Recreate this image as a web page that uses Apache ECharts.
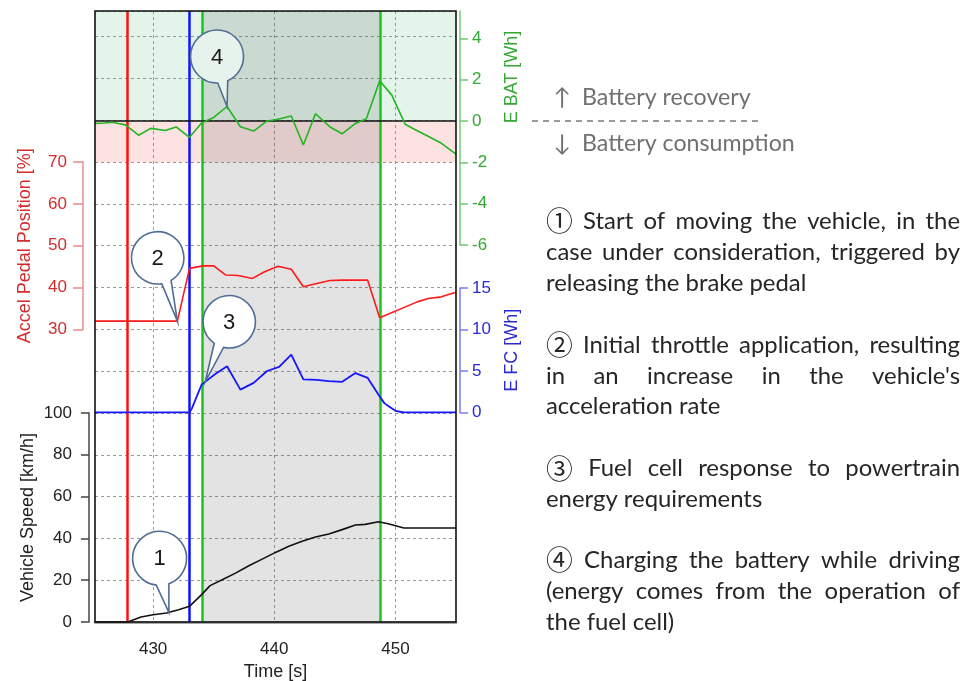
<!DOCTYPE html>
<html>
<head>
<meta charset="utf-8">
<title>Vehicle start-up: speed, pedal and energy flows</title>
<script src="https://cdn.jsdelivr.net/npm/echarts@6/dist/echarts.min.js"></script>
<style>
  html, body { margin: 0; padding: 0; background: #ffffff; }
  #chart { width: 971px; height: 681px; }
</style>
</head>
<body>
<div id="chart"></div>
<script>
// ---- Measured signals (time in s) ----
const timeTicks = [430, 440, 450];

const speedTime = [425.2, 427.9, 429.0, 430.0, 431.1, 432.1, 433.0, 434.0, 434.7, 435.7, 436.8, 437.9,
                   439.0, 440.1, 441.2, 442.3, 443.4, 444.5, 445.6, 446.7, 447.5, 448.6, 449.4, 450.7, 455.0];
const speedKmh  = [0, 0, 2.4, 3.5, 4.3, 5.9, 7.5, 13.1, 17.4, 20.2, 23.4, 26.9,
                   30.1, 33.3, 36.2, 38.6, 40.7, 42.1, 44.2, 46.4, 46.7, 48.0, 47.0, 45.0, 45.0];

const pedalTime = [425.2, 432.0, 433.0, 434.1, 435.0, 436.0, 437.0, 438.2, 439.2, 440.3, 441.4,
                   442.4, 443.5, 444.6, 445.6, 447.7, 448.7, 451.8, 452.7, 453.8, 455.0];
const pedalPct  = [32.0, 32.0, 44.6, 45.2, 45.2, 43.0, 42.9, 42.2, 43.8, 45.1, 44.4,
                   40.2, 41.0, 41.7, 41.8, 41.8, 32.8, 36.6, 37.4, 37.8, 38.9];

const fcTime = [425.2, 433.0, 433.2, 434.0, 435.1, 436.1, 437.2, 438.3, 439.4, 440.4, 441.4, 442.4,
                443.5, 444.5, 445.6, 446.7, 447.7, 448.7, 449.1, 449.5, 450.0, 450.7, 455.0];
const fcWh   = [0, 0, 0.5, 3.36, 4.6, 5.58, 2.75, 3.57, 5.0, 5.5, 6.97, 3.98,
                3.94, 3.77, 3.7, 4.75, 4.18, 1.93, 1.1, 0.7, 0.2, 0, 0];

const batTime = [425.2, 426.0, 426.6, 427.7, 428.8, 429.8, 431.0, 431.9, 433.0, 434.0, 435.0, 436.1,
                 437.2, 438.3, 439.4, 440.2, 441.4, 442.4, 443.4, 444.6, 445.6, 446.7, 447.6, 448.7,
                 449.7, 450.8, 451.6, 452.7, 453.8, 455.0];
const batWh   = [-0.12, -0.10, -0.06, -0.19, -0.69, -0.36, -0.46, -0.29, -0.79, -0.10, 0.17, 0.70,
                 -0.28, -0.49, 0.0, 0.07, 0.24, -1.16, 0.35, -0.29, -0.62, -0.12, 0.11, 1.95,
                 1.25, -0.16, -0.41, -0.74, -1.08, -1.6];

const batTicks = [-6, -4, -2, 0, 2, 4];

// Event instants: brake release, throttle, fuel-cell response window
const eventTimes = [427.9, 433.0, 434.05, 448.75];
const fcWindow = [434.05, 448.75];

// Numbered callouts: label and the time they point at
const calloutLabels = ['1', '2', '3', '4'];
const calloutTimes = [431.3, 432.0, 434.3, 436.1];

const batteryNotes = ['Battery recovery', 'Battery consumption'];
const noteParagraphs = [
  ['\u2460 Start of moving the vehicle, in the', 'case under consideration, triggered by', 'releasing the brake pedal'],
  ['\u2461 Initial throttle application, resulting', "in an increase in the vehicle's", 'acceleration rate'],
  ['\u2462 Fuel cell response to powertrain', 'energy requirements'],
  ['\u2463 Charging the battery while driving', '(energy comes from the operation of', 'the fuel cell)']
];

// ---- Layout ----
const X_MIN = 425.2, X_MAX = 455.0;
const PLOT = { left: 95, top: 11, width: 361, height: 611 };
const GRID_SPAN = 292.3;          // background grid scale: 20 units per division
const BAT_MAX = 5.32;
const AXIS_FONT = '"Liberation Sans", Arial, sans-serif';
const NOTE_FAMILY = 'Lato, "Noto Sans", sans-serif';
const CIRCLE_FAMILY = '"Noto Sans CJK JP", "DejaVu Sans", sans-serif';

const C = {
  speed: '#111111', pedal: '#ff1a1a', fc: '#1616ff', bat: '#22b422',
  pedalText: '#d42c2c', fcText: '#2a2ad2', batText: '#34a834',
  grid: '#9a9a9a'
};
const eventColors = ['#ff1010', '#1010ff', '#1ec41e', '#1ec41e'];

function pairs(ts, vs) { return ts.map((t, i) => [t, vs[i]]); }
function valueAt(ts, vs, t) {
  for (let i = 1; i < ts.length; i++) {
    if (t <= ts[i]) {
      const f = (t - ts[i - 1]) / (ts[i] - ts[i - 1]);
      return vs[i - 1] + f * (vs[i] - vs[i - 1]);
    }
  }
  return vs[vs.length - 1];
}

function gridAt(top, height) {
  return { left: PLOT.left, width: PLOT.width, top: top, height: height, outerBoundsMode: 'none', containLabel: false };
}
function hiddenX(idx) {
  return { gridIndex: idx, type: 'value', min: X_MIN, max: X_MAX, show: false };
}

const dashed = { show: true, lineStyle: { color: C.grid, type: [3, 3], width: 1 } };

// Callout bubble geometry relative to its tip
const bubbleStyles = [
  { dx: -9.3, dy: -54, r: 27, b1: -3.3, b2: 9.3, fill: '#ffffff' },
  { dx: -19.7, dy: -63.3, r: 26.2, b1: 4, b2: 13.4, fill: '#ffffff' },
  { dx: 24, dy: -60, r: 26.2, b1: -15, b2: -5.7, fill: '#ffffff' },
  { dx: -10, dy: -50, r: 26.5, b1: 0.7, b2: 10.7, fill: '#e6f3ec' }
];
const calloutSources = [[speedTime, speedKmh], [pedalTime, pedalPct], [fcTime, fcWh], [batTime, batWh]];

function bubbleRenderer(k) {
  const s = bubbleStyles[k];
  return function (params, api) {
    const tip = api.coord([api.value(0), api.value(1)]);
    const cx = tip[0] + s.dx, cy = tip[1] + s.dy, r = s.r;
    const b1x = cx + s.b1, b1y = cy + Math.sqrt(r * r - s.b1 * s.b1);
    const b2x = cx + s.b2, b2y = cy + Math.sqrt(r * r - s.b2 * s.b2);
    const d = 'M' + tip[0] + ',' + tip[1] + ' L' + b1x + ',' + b1y +
              ' A' + r + ',' + r + ' 0 1 1 ' + b2x + ',' + b2y + ' Z';
    return {
      type: 'group',
      children: [
        { type: 'path', shape: { pathData: d }, style: { fill: s.fill, stroke: '#4f6d95', lineWidth: 1.6 } },
        { type: 'text', x: cx, y: cy + 1, style: { text: calloutLabels[k], font: '22px ' + AXIS_FONT, fill: '#1a1a1a', align: 'center', verticalAlign: 'middle' } }
      ]
    };
  };
}

const calloutSeries = calloutTimes.map((t, k) => ({
  type: 'custom',
  xAxisIndex: k + 1,
  yAxisIndex: k + 1,
  coordinateSystem: 'cartesian2d',
  data: [[t, valueAt(calloutSources[k][0], calloutSources[k][1], t)]],
  renderItem: bubbleRenderer(k),
  clip: false,
  silent: true,
  z: 6
}));

// ---- Right-hand text ----
const measureCtx = document.createElement('canvas').getContext('2d');
function textWidth(str, font) { measureCtx.font = font; return measureCtx.measureText(str).width; }
function fitSize(str, target, family) { return 100 * target / textWidth(str, '100px ' + family); }

const noteSize = fitSize('releasing the brake pedal', 261, NOTE_FAMILY);
const noteFont = noteSize.toFixed(1) + 'px ' + NOTE_FAMILY;
const circleFont = (noteSize * 1.12).toFixed(1) + 'px ' + CIRCLE_FAMILY;
const batFont = fitSize('Battery recovery', 169, NOTE_FAMILY).toFixed(1) + 'px ' + NOTE_FAMILY;

const NOTE_LEFT = 546, NOTE_RIGHT = 960;
const noteLineY = [[221, 252, 283], [345, 376, 406.5], [468.5, 499.5], [560, 591, 622]];

function wordFont(w) { return /^[\u2460-\u2473]$/.test(w) ? circleFont : noteFont; }

function lineElements(str, y, justify) {
  const style = (text) => ({ text: text, font: wordFont(text), fill: '#262626', align: 'left', verticalAlign: 'middle' });
  const words = str.split(' ');
  const widths = words.map(w => textWidth(w, wordFont(w)));
  let gap = textWidth(' ', noteFont);
  if (justify) gap = (NOTE_RIGHT - NOTE_LEFT - widths.reduce((a, b) => a + b, 0)) / (words.length - 1);
  if (!justify && words.every(w => wordFont(w) === noteFont)) {
    return [{ type: 'text', x: NOTE_LEFT, y: y, silent: true, style: style(str) }];
  }
  let x = NOTE_LEFT;
  return words.map((w, i) => {
    const el = { type: 'text', x: x, y: y, silent: true, style: style(w) };
    x += widths[i] + gap;
    return el;
  });
}

const graphicElements = [];
noteParagraphs.forEach((para, p) => {
  para.forEach((line, i) => {
    lineElements(line, noteLineY[p][i], i < para.length - 1).forEach(el => graphicElements.push(el));
  });
});

// Battery recovery / consumption legend
graphicElements.push(
  { type: 'text', x: 562, y: 98, silent: true, style: { text: '\u2191', font: batFont, fill: '#707070', align: 'center', verticalAlign: 'middle' } },
  { type: 'text', x: 582, y: 98, silent: true, style: { text: batteryNotes[0], font: batFont, fill: '#707070', align: 'left', verticalAlign: 'middle' } },
  { type: 'line', silent: true, shape: { x1: 532, y1: 121, x2: 762, y2: 121 }, style: { stroke: '#7a7a7a', lineWidth: 1.5, lineDash: [6, 5] } },
  { type: 'text', x: 562, y: 144, silent: true, style: { text: '\u2193', font: batFont, fill: '#707070', align: 'center', verticalAlign: 'middle' } },
  { type: 'text', x: 582, y: 144, silent: true, style: { text: batteryNotes[1], font: batFont, fill: '#707070', align: 'left', verticalAlign: 'middle' } }
);

// Battery energy axis title
graphicElements.push({
  type: 'text', x: 512, y: 77, rotation: Math.PI / 2, silent: true,
  style: { text: 'E BAT [Wh]', font: '18px ' + AXIS_FONT, fill: C.batText, align: 'center', verticalAlign: 'middle' }
});

// Plot frame on top of the shaded bands
graphicElements.push({
  type: 'rect', silent: true, z: 10,
  shape: { x: PLOT.left, y: PLOT.top, width: PLOT.width, height: PLOT.height },
  style: { fill: 'none', stroke: '#111111', lineWidth: 1.6 }
});

const option = {
  animation: false,
  backgroundColor: '#ffffff',
  textStyle: { fontFamily: AXIS_FONT },
  grid: [
    gridAt(PLOT.top, PLOT.height),   // frame + background grid
    gridAt(413, 209),                // vehicle speed
    gridAt(162, 167.5),              // accel pedal
    gridAt(288, 124.5),              // fuel cell energy
    gridAt(11, 234)                  // battery energy
  ],
  xAxis: [
    {
      gridIndex: 0, type: 'value', min: X_MIN, max: X_MAX, position: 'bottom', offset: 7,
      name: 'Time [s]', nameLocation: 'middle', nameGap: 31,
      nameTextStyle: { fontSize: 18, color: '#222222', fontFamily: AXIS_FONT },
      axisLine: { show: true, lineStyle: { color: '#8a8a8a', width: 2.5 } },
      axisTick: { show: false, customValues: timeTicks },
      axisLabel: { customValues: timeTicks, fontSize: 17, color: '#222222', margin: 12, fontFamily: AXIS_FONT },
      splitLine: dashed
    },
    hiddenX(1), hiddenX(2), hiddenX(3), hiddenX(4)
  ],
  yAxis: [
    {
      gridIndex: 0, type: 'value', min: 0, max: GRID_SPAN, interval: 20,
      axisLine: { show: false }, axisTick: { show: false }, axisLabel: { show: false },
      splitLine: dashed
    },
    {
      gridIndex: 1, type: 'value', position: 'left', offset: 6, min: 0, max: 100, interval: 20,
      name: 'Vehicle Speed [km/h]', nameLocation: 'middle', nameGap: 52,
      nameTextStyle: { fontSize: 18, color: '#222222', fontFamily: AXIS_FONT },
      axisLine: { show: true, lineStyle: { color: '#444444', width: 1.5 } },
      axisTick: { show: true, length: 8, lineStyle: { color: '#444444', width: 1.5 } },
      axisLabel: { fontSize: 17, color: '#222222', margin: 17, fontFamily: AXIS_FONT },
      splitLine: { show: false }
    },
    {
      gridIndex: 2, type: 'value', position: 'left', offset: 12, min: 30, max: 70, interval: 10,
      name: 'Accel Pedal Position [%]', nameLocation: 'middle', nameGap: 49,
      nameTextStyle: { fontSize: 18, color: C.pedalText, fontFamily: AXIS_FONT },
      axisLine: { show: true, lineStyle: { color: '#e88c8c', width: 1.5 } },
      axisTick: { show: true, length: 10, lineStyle: { color: '#e88c8c', width: 1.5 } },
      axisLabel: { fontSize: 17, color: C.pedalText, margin: 16, fontFamily: AXIS_FONT },
      splitLine: { show: false }
    },
    {
      gridIndex: 3, type: 'value', position: 'right', offset: 4, min: 0, max: 15, interval: 5,
      name: 'E FC [Wh]', nameLocation: 'middle', nameGap: 43,
      nameTextStyle: { fontSize: 18, color: C.fcText, fontFamily: AXIS_FONT },
      axisLine: { show: true, lineStyle: { color: '#7c7ce8', width: 1.5 } },
      axisTick: { show: true, length: 8, lineStyle: { color: '#7c7ce8', width: 1.5 } },
      axisLabel: { fontSize: 17, color: C.fcText, margin: 12, fontFamily: AXIS_FONT },
      splitLine: { show: false }
    },
    {
      gridIndex: 4, type: 'value', position: 'right', offset: 4, min: -6, max: BAT_MAX,
      axisLine: { show: true, lineStyle: { color: '#70c870', width: 1.5 } },
      axisTick: { show: true, length: 8, customValues: batTicks, lineStyle: { color: '#70c870', width: 1.5 } },
      axisLabel: { customValues: batTicks, fontSize: 17, color: C.batText, margin: 12, fontFamily: AXIS_FONT },
      splitLine: { show: false }
    }
  ],
  series: [
    {
      // fuel-cell operating window and event markers
      type: 'line', xAxisIndex: 0, yAxisIndex: 0, data: [], silent: true,
      markArea: {
        z: 2, silent: true,
        itemStyle: { color: 'rgba(60,60,60,0.14)' },
        data: [[{ xAxis: fcWindow[0] }, { xAxis: fcWindow[1] }]]
      },
      markLine: {
        z: 3, silent: true, symbol: ['none', 'none'], label: { show: false },
        data: eventTimes.map((t, i) => ({ xAxis: t, lineStyle: { color: eventColors[i], width: 2.5, type: 'solid' } }))
      }
    },
    {
      name: 'Vehicle Speed', type: 'line', xAxisIndex: 1, yAxisIndex: 1, z: 4,
      data: pairs(speedTime, speedKmh), showSymbol: false, symbol: 'none',
      lineStyle: { color: C.speed, width: 1.6 }
    },
    {
      name: 'Accel Pedal Position', type: 'line', xAxisIndex: 2, yAxisIndex: 2, z: 4,
      data: pairs(pedalTime, pedalPct), showSymbol: false, symbol: 'none',
      lineStyle: { color: C.pedal, width: 1.6 }
    },
    {
      name: 'E FC', type: 'line', xAxisIndex: 3, yAxisIndex: 3, z: 4,
      data: pairs(fcTime, fcWh), showSymbol: false, symbol: 'none',
      lineStyle: { color: C.fc, width: 1.8 }
    },
    {
      name: 'E BAT', type: 'line', xAxisIndex: 4, yAxisIndex: 4, z: 4,
      data: pairs(batTime, batWh), showSymbol: false, symbol: 'none',
      lineStyle: { color: C.bat, width: 1.6 },
      markArea: {
        z: 1, silent: true,
        data: [
          [{ yAxis: 0, itemStyle: { color: 'rgba(40,175,95,0.13)' } }, { yAxis: BAT_MAX }],
          [{ yAxis: -2, itemStyle: { color: 'rgba(240,30,30,0.13)' } }, { yAxis: 0 }]
        ]
      },
      markLine: {
        z: 4, silent: true, symbol: ['none', 'none'], label: { show: false },
        lineStyle: { color: '#111111', width: 1.6, type: 'solid' },
        data: [{ yAxis: 0 }]
      }
    }
  ].concat(calloutSeries),
  graphic: { elements: graphicElements }
};

const chart = echarts.init(document.getElementById('chart'), null, { renderer: 'canvas' });
chart.setOption(option);
</script>
</body>
</html>
